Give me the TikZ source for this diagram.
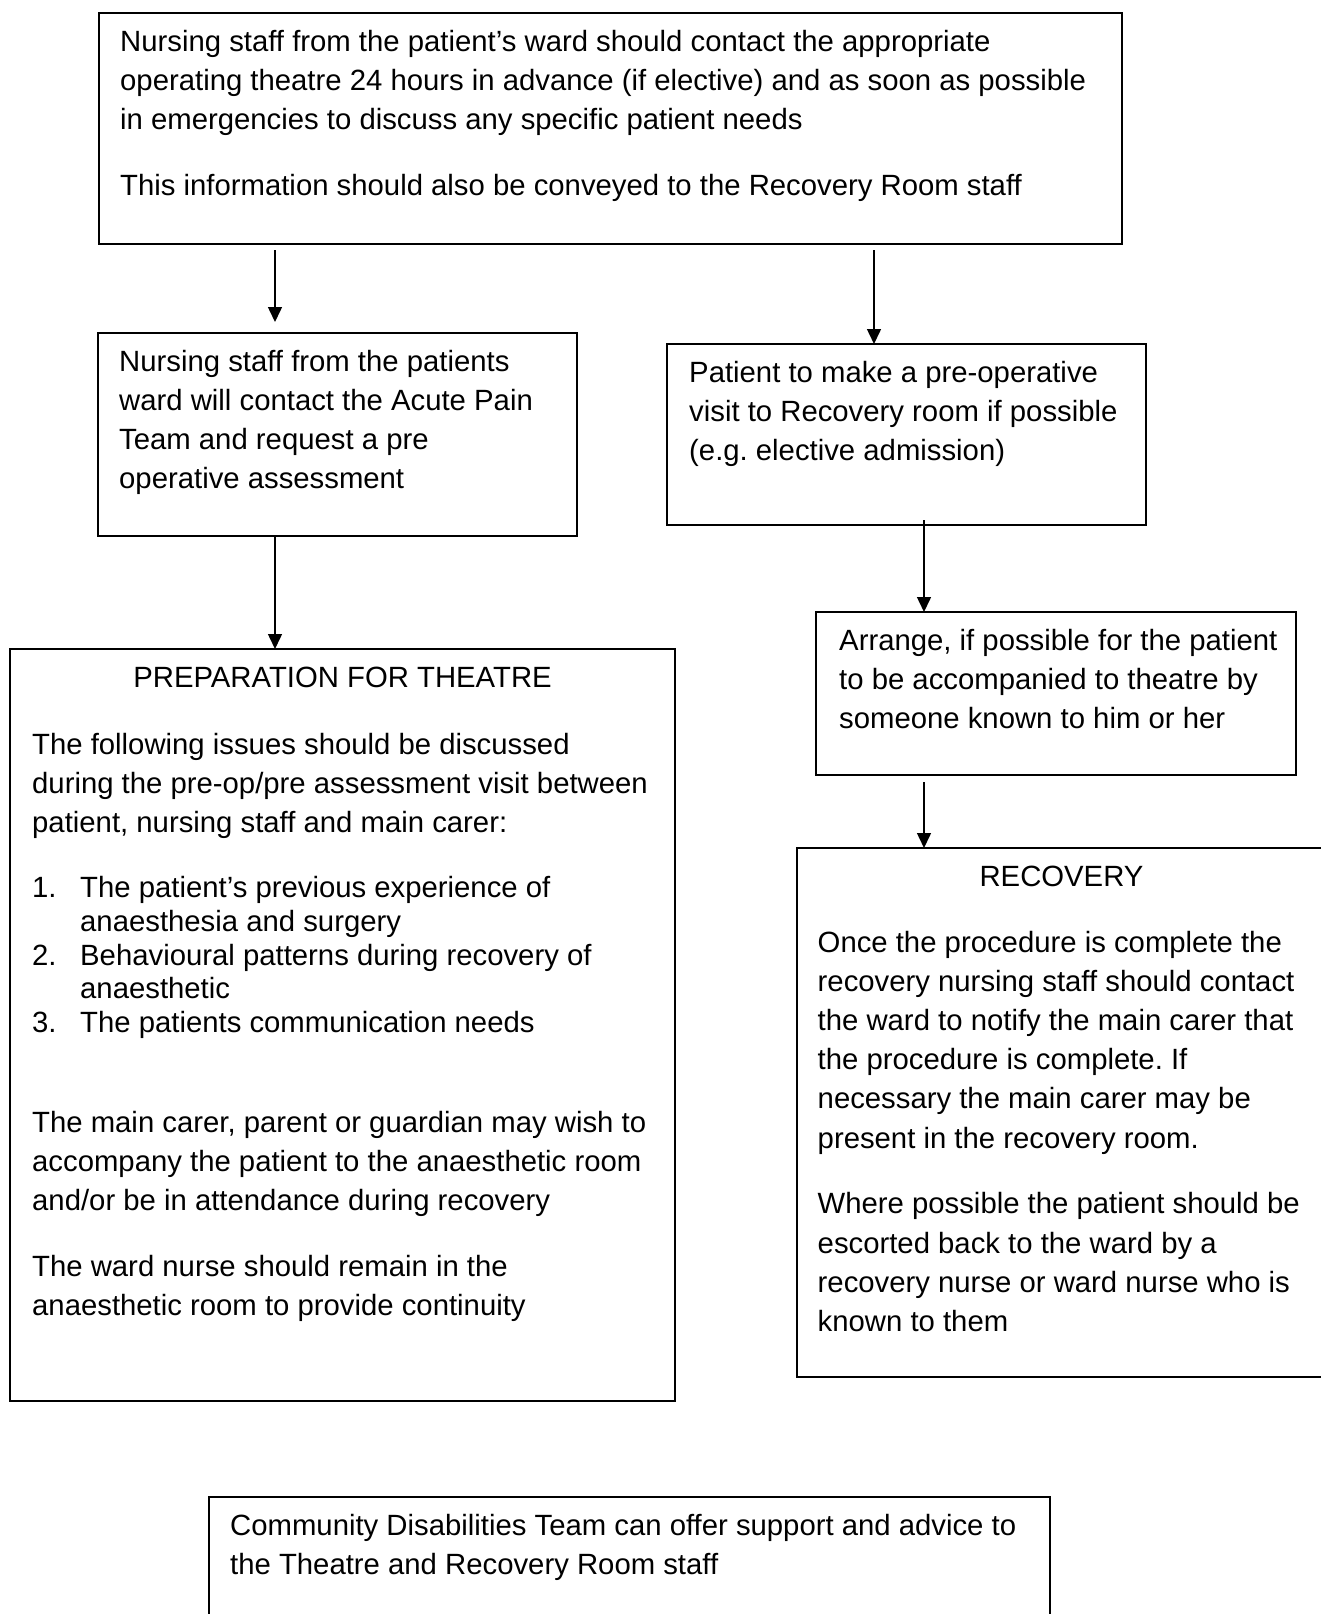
\documentclass[tikz,border=0pt]{standalone}
\usepackage{fontspec}
\setmainfont{Liberation Sans}
\usetikzlibrary{arrows.meta}
\frenchspacing

\begin{document}
\begin{tikzpicture}[x=1pt, y=-1pt,
  every node/.style={font=\fontsize{29.3pt}{39.2pt}\selectfont},
  box/.style={draw,line width=1.7pt,anchor=north west,inner sep=0pt,outer sep=0pt},
  txt/.style={anchor=north west,inner sep=0pt,align=left},
  arr/.style={-{Triangle[length=15pt,width=14pt]},line width=1.5pt}]
\path[use as bounding box,fill=white] (0,0) rectangle (1320,1614);
% boxes
\node[box,minimum width=1023pt,minimum height=231pt] (top) at (99,13) {};
\node[box,minimum width=479pt,minimum height=203pt] (pain) at (98,333) {};
\node[box,minimum width=479pt,minimum height=181pt] (preop) at (667,344) {};
\node[box,minimum width=665pt,minimum height=752pt] (prep) at (10,649) {};
\node[box,minimum width=480pt,minimum height=163pt] (arrange) at (816,612) {};
\node[box,minimum width=529pt,minimum height=529pt] (recov) at (797,848) {};
\node[box,minimum width=841pt,minimum height=200pt] (comm) at (209,1497) {};
% texts
\node[txt] (topt) at ([shift={(21pt,-10.5pt)}]top.north west) {\strut Nursing staff from the patient’s ward should contact the appropriate\\
operating theatre 24 hours in advance (if elective) and as soon as possible\\
in emergencies to discuss any specific patient needs\\[26.5pt]
This information should also be conveyed to the Recovery Room staff};
\node[txt] (paint) at ([shift={(21pt,-10.5pt)}]pain.north west) {\strut Nursing staff from the patients\\
ward will contact the Acute Pain\\
Team and request a pre\\
operative assessment};
\node[txt] (preopt) at ([shift={(22pt,-10.5pt)}]preop.north west) {\strut Patient to make a pre-operative\\
visit to Recovery room if possible\\
(e.g. elective admission)};
\node[txt,anchor=north] (prepttl) at ([yshift=-10.5pt]prep.north) {\strut PREPARATION FOR THEATRE};
\node[txt] (prept) at ([shift={(22pt,-77.5pt)}]prep.north west) {\strut The following issues should be discussed\\
during the pre-op/pre assessment visit between\\
patient, nursing staff and main carer:\\[26pt]
\makebox[48pt][l]{1.}The patient’s previous experience of\\[-5.5pt]
\hspace*{48pt}anaesthesia and surgery\\[-5.5pt]
\makebox[48pt][l]{2.}Behavioural patterns during recovery of\\[-5.5pt]
\hspace*{48pt}anaesthetic\\[-5.5pt]
\makebox[48pt][l]{3.}The patients communication needs\\[60.3pt]
The main carer, parent or guardian may wish to\\
accompany the patient to the anaesthetic room\\
and/or be in attendance during recovery\\[26.5pt]
The ward nurse should remain in the\\
anaesthetic room to provide continuity};
\node[txt] (arranget) at ([shift={(23pt,-10.5pt)}]arrange.north west) {\strut Arrange, if possible for the patient\\
to be accompanied to theatre by\\
someone known to him or her};
\node[txt,anchor=north] (recovttl) at ([yshift=-10.5pt]recov.north) {\strut RECOVERY};
\node[txt] (recovt) at ([shift={(20.5pt,-76.5pt)}]recov.north west) {\strut Once the procedure is complete the\\
recovery nursing staff should contact\\
the ward to notify the main carer that\\
the procedure is complete. If\\
necessary the main carer may be\\
present in the recovery room.\\[26.5pt]
Where possible the patient should be\\
escorted back to the ward by a\\
recovery nurse or ward nurse who is\\
known to them};
\node[txt] (commt) at ([shift={(21pt,-10.5pt)}]comm.north west) {\strut Community Disabilities Team can offer support and advice to\\
the Theatre and Recovery Room staff};
% arrows
\draw[arr] ([xshift=176pt,yshift=-6pt]top.south west) -- ([xshift=177pt,yshift=11pt]pain.north west);
\draw[arr] ([xshift=775pt,yshift=-6pt]top.south west) -- ([xshift=207pt]preop.north west);
\draw[arr] ([xshift=177pt]pain.south west) -- ([xshift=265pt]prep.north west);
\draw[arr] ([xshift=257pt,yshift=5pt]preop.south west) -- ([xshift=108pt]arrange.north west);
\draw[arr] ([xshift=108pt,yshift=-7pt]arrange.south west) -- ([xshift=127pt]recov.north west);
\end{tikzpicture}
\end{document}
